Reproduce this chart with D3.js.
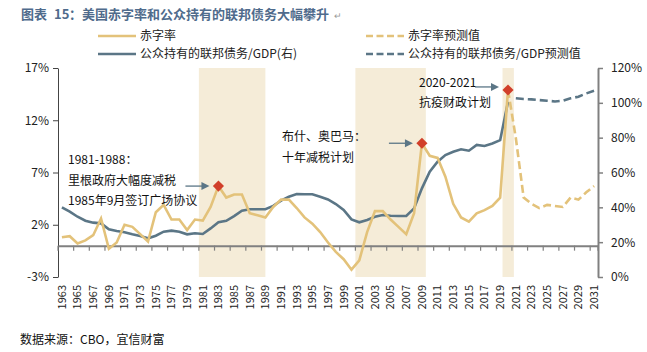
<!DOCTYPE html>
<html><head><meta charset="utf-8">
<script src="https://cdn.jsdelivr.net/npm/d3@7"></script>
<style>
body{margin:0;background:#fff;}
text{font-family:"Noto Sans CJK SC","Noto Sans",sans-serif;}
</style></head>
<body><svg id="c" width="647" height="352"></svg>
<script>
const years = [1963,1964,1965,1966,1967,1968,1969,1970,1971,1972,1973,1974,1975,1976,1977,1978,1979,1980,
1981,1982,1983,1984,1985,1986,1987,1988,1989,1990,1991,1992,1993,1994,1995,1996,1997,1998,1999,2000,
2001,2002,2003,2004,2005,2006,2007,2008,2009,2010,2011,2012,2013,2014,2015,2016,2017,2018,2019,2020,
2021,2022,2023,2024,2025,2026,2027,2028,2029,2030,2031];
const histYears = years.filter(y => y <= 2020);
const deficit = [0.8,0.9,0.2,0.5,1.0,2.6,-0.3,0.3,2.0,1.8,
1.1,0.4,3.2,3.9,2.5,2.5,1.5,2.5,2.4,3.7,
5.7,4.6,4.9,4.9,3.1,2.9,2.7,3.7,4.4,4.4,
3.6,2.7,2.1,1.3,0.3,-0.6,-1.3,-2.3,-1.4,1.3,
3.3,3.3,2.5,1.8,1.1,3.1,9.8,8.6,8.4,6.6,
4.0,2.7,2.3,3.1,3.4,3.8,4.6,14.9];
const deficitProjYears = [2020,2021,2022,2023,2024,2025,2026,2027,2028,2029,2030,2031];
const deficitProj = [14.9,10.3,4.6,4.0,3.6,3.9,3.8,3.7,4.6,4.4,5.1,5.7];
const debt = [40.0,37.5,34.6,32.3,31.2,30.8,27.4,26.4,25.7,24.5,
23.5,22.2,23.7,26.0,26.6,26.0,24.5,25.1,24.7,27.9,
31.4,32.3,35.0,38.1,38.9,38.9,38.9,40.8,43.8,46.1,
47.6,47.5,47.5,46.1,44.5,41.9,38.5,33.1,31.4,32.7,
34.6,35.6,35.2,35.0,35.0,39.4,50.9,60.5,66.2,70.0,
71.9,73.3,72.5,75.8,75.2,76.7,78.6,100.6];
const debtProjYears = [2021,2022,2023,2024,2025,2026,2027,2028,2029,2030,2031];
const debtProj = [102.6,102.2,102.0,101.6,101.2,100.8,101.2,102.6,103.5,105.4,106.9];
const leftTicks = [-3,2,7,12,17];
const rightTicks = [0,20,40,60,80,100,120];
const markerYears = [1983,2009,2020];
const shadeStart = [1981,2001,2019.8];
const shadeEnd = [1989.5,2010,2021.25];
const annotations = [
  {lines:["1981-1988：","里根政府大幅度减税","1985年9月签订广场协议"], year:1983},
  {lines:["布什、奥巴马：","十年减税计划"], year:2009},
  {lines:["2020-2021","抗疫财政计划"], year:2020}
];

const svg = d3.select("#c");
const L = 58, R = 598, T = 68, B = 277;
const x = d3.scaleBand().domain(years).range([L, R]).padding(0);
const xEdge = d3.scaleLinear().domain([1963, 2032]).range([L, R]);
const yL = d3.scaleLinear().domain([-3, 17]).range([B, T]);
const yR = d3.scaleLinear().domain([0, 120]).range([B, T]);
const cx = y => x(y) + x.bandwidth() / 2;
const GOLD = "#e3c27a", BLUE = "#5b7686", RED = "#d13f2a", SHADE = "#f5ecd8";

// title
const title = svg.append("text").attr("y", 19)
  .attr("font-size", 13).attr("font-weight", "bold").attr("fill", "#4f6b8c");
title.append("tspan").attr("x", 21).text("图表");
title.append("tspan").attr("x", 54).text("15");
title.append("tspan").attr("x", 69).text("：美国赤字率和公众持有的联邦债务大幅攀升");
svg.append("text").attr("x", 334).attr("y", 19).attr("font-size", 9).attr("fill", "#999").text("↵");

// shading
svg.append("g").selectAll("rect").data(shadeStart).join("rect")
  .attr("x", (d) => xEdge(d)).attr("y", T)
  .attr("width", (d, i) => xEdge(shadeEnd[i]) - xEdge(d))
  .attr("height", B - T).attr("fill", SHADE);

// left axis
const la = svg.append("g").attr("transform", `translate(${L},0)`)
  .call(d3.axisLeft(yL).tickValues(leftTicks).tickSize(5).tickSizeOuter(0).tickFormat(d => d + "%"));
la.select(".domain").attr("stroke", "#444").attr("stroke-width", 1);
la.selectAll(".tick line").attr("stroke", "#444");
la.selectAll("text").attr("font-size", 12).attr("fill", "#222").attr("x", -9)
  .style("font-family", "'Noto Sans CJK SC',sans-serif");

// right axis
const ra = svg.append("g").attr("transform", `translate(${R},0)`)
  .call(d3.axisRight(yR).tickValues(rightTicks).tickSize(5).tickSizeOuter(0).tickFormat(d => d + "%"));
ra.select(".domain").attr("stroke", "#808080").attr("stroke-width", 2);
ra.selectAll(".tick line").attr("stroke", "#808080").attr("stroke-width", 1.5);
ra.selectAll("text").attr("font-size", 12).attr("fill", "#222").attr("x", 13)
  .style("font-family", "'Noto Sans CJK SC',sans-serif");

// x axis
const y0 = yL(0);
const xa = svg.append("g").attr("transform", `translate(0,${y0})`)
  .call(d3.axisBottom(x).tickValues([]).tickSizeOuter(0));
xa.select(".domain").attr("stroke", "#808080").attr("stroke-width", 2);
const tickEdges = years.filter((d, i) => i % 2 === 0).concat([2032]);
svg.append("g").selectAll("line").data(tickEdges).join("line")
  .attr("x1", d => xEdge(d)).attr("x2", d => xEdge(d))
  .attr("y1", y0).attr("y2", y0 + 5).attr("stroke", "#808080").attr("stroke-width", 1.2);
svg.append("g").selectAll("text").data(years.filter((d, i) => i % 2 === 0)).join("text")
  .attr("transform", d => `translate(${cx(d)},285) rotate(-90)`)
  .attr("text-anchor", "end").attr("dy", "0.35em")
  .attr("font-size", 11).attr("fill", "#222").text(d => d);

// lines
const lineL = d3.line().x(d => cx(d[0])).y(d => yL(d[1]));
const lineR = d3.line().x(d => cx(d[0])).y(d => yR(d[1]));
svg.append("path").datum(histYears.map((y, i) => [y, debt[i]]))
  .attr("d", lineR).attr("fill", "none").attr("stroke", BLUE).attr("stroke-width", 2.6);
svg.append("path").datum(debtProjYears.map((y, i) => [y, debtProj[i]]))
  .attr("d", lineR).attr("fill", "none").attr("stroke", BLUE).attr("stroke-width", 2.6)
  .attr("stroke-dasharray", "8,4");
svg.append("path").datum(histYears.map((y, i) => [y, deficit[i]]))
  .attr("d", lineL).attr("fill", "none").attr("stroke", GOLD).attr("stroke-width", 2.6);
svg.append("path").datum(deficitProjYears.map((y, i) => [y, deficitProj[i]]))
  .attr("d", lineL).attr("fill", "none").attr("stroke", GOLD).attr("stroke-width", 2.6)
  .attr("stroke-dasharray", "8,4");

// markers
svg.append("g").selectAll("path").data(markerYears).join("path")
  .attr("d", d3.symbol().type(d3.symbolSquare).size(62))
  .attr("transform", d => `translate(${cx(d)},${yL(deficit[histYears.indexOf(d)])}) rotate(45)`)
  .attr("fill", RED);

// annotations
const annPos = [{x: 68, y: 160, dy: 20.5}, {x: 282, y: 137, dy: 20.5}, {x: 419, y: 83, dy: 19.5}];
annotations.forEach((a, i) => {
  const p = annPos[i];
  const g = svg.append("g");
  a.lines.forEach((t, j) => {
    g.append("text").attr("x", p.x).attr("y", p.y + j * p.dy).attr("dy", "0.35em")
      .attr("font-size", 12).attr("fill", "#111").text(t);
  });
  const my = yL(deficit[histYears.indexOf(a.year)]);
  const mx = cx(a.year);
  const x2 = mx - 9, x1 = x2 - 24;
  const ay = i === 2 ? my - 3 : my;
  g.append("line").attr("x1", x1).attr("x2", x2 - 5).attr("y1", ay).attr("y2", ay)
    .attr("stroke", BLUE).attr("stroke-width", 1.3);
  g.append("path").attr("d", `M${x2},${ay} L${x2 - 8},${ay - 4} L${x2 - 8},${ay + 4} Z`).attr("fill", BLUE);
});

// legend
const leg = svg.append("g");
const legItems = [
  {x: 98, y: 36, c: GOLD, dash: null, t: "赤字率"},
  {x: 98, y: 54, c: BLUE, dash: null, t: "公众持有的联邦债务/GDP(右)"},
  {x: 366, y: 36, c: GOLD, dash: "7,3.5", t: "赤字率预测值"},
  {x: 366, y: 54, c: BLUE, dash: "7,3.5", t: "公众持有的联邦债务/GDP预测值"}
];
legItems.forEach(d => {
  leg.append("line").attr("x1", d.x).attr("x2", d.x + 38).attr("y1", d.y).attr("y2", d.y)
    .attr("stroke", d.c).attr("stroke-width", 2.6).attr("stroke-dasharray", d.dash);
  leg.append("text").attr("x", d.x + 42).attr("y", d.y).attr("dy", "0.35em")
    .attr("font-size", 12).attr("fill", "#222").text(d.t);
});

// source
svg.append("text").attr("x", 20).attr("y", 340).attr("dy", "0.35em")
  .attr("font-size", 12).attr("fill", "#111").text("数据来源：CBO，宜信财富");
</script></body></html>
